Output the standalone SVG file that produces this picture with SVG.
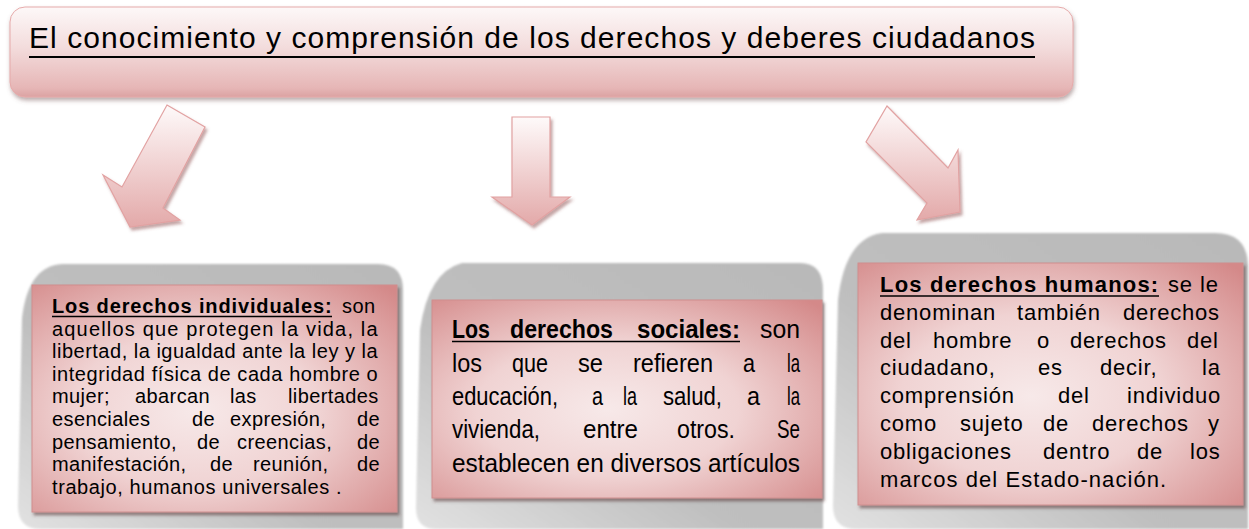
<svg xmlns="http://www.w3.org/2000/svg" width="1249" height="529" viewBox="0 0 1249 529">
<defs>
<style>
.t{font-family:"Liberation Sans",Arial,sans-serif;fill:#000}
.b1{font-size:20px;letter-spacing:0.4px}
.b3{font-size:22px;letter-spacing:0.8px}
.b2{font-family:"Liberation Sans Narrow","Liberation Sans",Arial,sans-serif;font-size:25px;fill:#000}
.hd{font-weight:bold}
.ul{stroke:#000;stroke-width:1.6}
.pink{fill:url(#pk);stroke:#cf8e8e;stroke-width:1;filter:url(#sh)}
.grey{fill:url(#gr);filter:url(#bl)}
.arr{fill:url(#ag);stroke:#e2a2a2;stroke-width:1.2;filter:url(#ash)}
</style>
<linearGradient id="bg" x1="0" y1="0" x2="0" y2="1">
<stop offset="0" stop-color="#fdf8f8"/><stop offset="0.45" stop-color="#f3dcdc"/><stop offset="0.9" stop-color="#e6b6b6"/><stop offset="1" stop-color="#dba2a2"/>
</linearGradient>
<linearGradient id="ag" x1="0" y1="0" x2="0" y2="1">
<stop offset="0" stop-color="#fefafa"/><stop offset="1" stop-color="#e3a9a9"/>
</linearGradient>
<radialGradient id="pk" cx="0.45" cy="0.55" r="0.75">
<stop offset="0" stop-color="#f7e9e9"/><stop offset="0.45" stop-color="#f0d3d3"/><stop offset="1" stop-color="#d48989"/>
</radialGradient>
<linearGradient id="gr" x1="1" y1="0" x2="0" y2="1">
<stop offset="0" stop-color="#b9b9b9"/><stop offset="0.6" stop-color="#bfbfbf"/><stop offset="1" stop-color="#e2e2e2"/>
</linearGradient>
<filter id="sh" x="-5%" y="-5%" width="115%" height="120%">
<feDropShadow dx="2" dy="3" stdDeviation="1.5" flood-color="#5a3a3a" flood-opacity="0.55"/>
</filter>
<filter id="ash" x="-20%" y="-20%" width="150%" height="150%">
<feDropShadow dx="2" dy="3" stdDeviation="1.5" flood-color="#8a4a4a" flood-opacity="0.5"/>
</filter>
<filter id="bsh" x="-5%" y="-10%" width="110%" height="130%">
<feDropShadow dx="1" dy="3" stdDeviation="2" flood-color="#7a5a5a" flood-opacity="0.5"/>
</filter>
<filter id="bl"><feGaussianBlur stdDeviation="1.2"/></filter>
</defs>
<rect width="1249" height="529" fill="#fff"/>

<g id="banner">
<rect x="10" y="7" width="1063" height="90" rx="15" fill="url(#bg)" stroke="#e6aaaa" stroke-width="1" filter="url(#bsh)"/>
<text class="t" x="29" y="48" font-size="30" textLength="1006" lengthAdjust="spacing">El conocimiento y comprensión de los derechos y deberes ciudadanos</text>
<line x1="29" y1="57" x2="1035" y2="57" stroke="#000" stroke-width="2.2"/>
</g>

<g id="connectors">
<polygon class="arr" points="167,105 205,127 163,208 180,220 130,227 103,175 122,187"/>
<polygon class="arr" points="512,117 550,117 550,197 570,197 532,225 492,197 512,197"/>
<polygon class="arr" points="887,106 948,168 958,150 960,212 917,220 927,203 866,142"/>
</g>

<g id="box1">
<path class="grey" d="M62,264 L378,264 Q403,264 403,290 L403,529 L40,529 Q18,529 18,506 L22,318 Q28,266 62,264 Z"/>
<rect class="pink" x="32" y="285" width="365" height="227"/>
<text class="t b1 hd" x="52" y="313" textLength="280" lengthAdjust="spacing">Los derechos individuales:</text>
<line class="ul" x1="52" y1="316.5" x2="332" y2="316.5"/>
<text class="t b1" x="342" y="313">son</text>
<text class="t b1" x="52" y="335.6" textLength="326" lengthAdjust="spacing">aquellos que protegen la vida, la</text>
<text class="t b1" x="52" y="358.2" textLength="326" lengthAdjust="spacing">libertad, la igualdad ante la ley y la</text>
<text class="t b1" x="52" y="380.8" textLength="326" lengthAdjust="spacing">integridad física de cada hombre o</text>
<text class="t b1" y="403.4"><tspan x="52">mujer;</tspan><tspan x="135">abarcan</tspan><tspan x="230">las</tspan><tspan x="288">libertades</tspan></text>
<text class="t b1" y="426"><tspan x="52">esenciales</tspan><tspan x="192">de</tspan><tspan x="230">expresión,</tspan><tspan x="357">de</tspan></text>
<text class="t b1" y="448.6"><tspan x="52">pensamiento,</tspan><tspan x="197">de</tspan><tspan x="237">creencias,</tspan><tspan x="357">de</tspan></text>
<text class="t b1" y="471.2"><tspan x="52">manifestación,</tspan><tspan x="210">de</tspan><tspan x="253">reunión,</tspan><tspan x="357">de</tspan></text>
<text class="t b1" x="52" y="493.8" textLength="290" lengthAdjust="spacing">trabajo, humanos universales .</text>
</g>

<g id="box2">
<path class="grey" d="M462,263 L800,263 Q823,263 823,290 L823,529 L436,529 Q416,529 416,508 L420,330 Q428,272 462,263 Z"/>
<rect class="pink" x="432" y="300" width="390" height="198"/>
<text class="b2 hd" x="452" y="338" textLength="38" lengthAdjust="spacingAndGlyphs">Los</text>
<text class="b2 hd" x="510" y="338" textLength="103" lengthAdjust="spacingAndGlyphs">derechos</text>
<text class="b2 hd" x="637" y="338" textLength="103" lengthAdjust="spacingAndGlyphs">sociales:</text>
<line class="ul" x1="452" y1="341.5" x2="740" y2="341.5"/>
<text class="b2" x="760" y="338" textLength="40" lengthAdjust="spacingAndGlyphs">son</text>
<text class="b2" x="452" y="371.5" textLength="30" lengthAdjust="spacingAndGlyphs">los</text>
<text class="b2" x="512" y="371.5" textLength="36" lengthAdjust="spacingAndGlyphs">que</text>
<text class="b2" x="578" y="371.5" textLength="25" lengthAdjust="spacingAndGlyphs">se</text>
<text class="b2" x="633" y="371.5" textLength="80" lengthAdjust="spacingAndGlyphs">refieren</text>
<text class="b2" x="743" y="371.5" textLength="12" lengthAdjust="spacingAndGlyphs">a</text>
<text class="b2" x="787" y="371.5" textLength="13" lengthAdjust="spacingAndGlyphs">la</text>
<text class="b2" x="452" y="405" textLength="106" lengthAdjust="spacingAndGlyphs">educación,</text>
<text class="b2" x="592" y="405" textLength="11" lengthAdjust="spacingAndGlyphs">a</text>
<text class="b2" x="623" y="405" textLength="14" lengthAdjust="spacingAndGlyphs">la</text>
<text class="b2" x="663" y="405" textLength="59" lengthAdjust="spacingAndGlyphs">salud,</text>
<text class="b2" x="747" y="405" textLength="13" lengthAdjust="spacingAndGlyphs">a</text>
<text class="b2" x="787" y="405" textLength="13" lengthAdjust="spacingAndGlyphs">la</text>
<text class="b2" x="452" y="438" textLength="88" lengthAdjust="spacingAndGlyphs">vivienda,</text>
<text class="b2" x="583" y="438" textLength="55" lengthAdjust="spacingAndGlyphs">entre</text>
<text class="b2" x="677" y="438" textLength="58" lengthAdjust="spacingAndGlyphs">otros.</text>
<text class="b2" x="777" y="438" textLength="23" lengthAdjust="spacingAndGlyphs">Se</text>
<text class="b2" x="452" y="471.5" textLength="348" lengthAdjust="spacingAndGlyphs">establecen en diversos artículos</text>
</g>

<g id="box3">
<path class="grey" d="M882,233 L1215,233 Q1247,233 1248,265 L1248,529 L856,529 Q833,529 833,506 L838,300 Q845,238 882,233 Z"/>
<rect class="pink" x="858" y="263" width="385" height="242"/>
<text class="t b3 hd" x="880" y="292" textLength="279" lengthAdjust="spacing">Los derechos humanos:</text>
<line class="ul" x1="880" y1="296" x2="1159" y2="296"/>
<text class="t b3" y="292"><tspan x="1168">se</tspan><tspan x="1200">le</tspan></text>
<text class="t b3" y="320"><tspan x="880">denominan</tspan><tspan x="1017">también</tspan><tspan x="1123">derechos</tspan></text>
<text class="t b3" y="348"><tspan x="880">del</tspan><tspan x="933">hombre</tspan><tspan x="1037">o</tspan><tspan x="1070">derechos</tspan><tspan x="1187">del</tspan></text>
<text class="t b3" y="375"><tspan x="880">ciudadano,</tspan><tspan x="1038">es</tspan><tspan x="1100">decir,</tspan><tspan x="1202">la</tspan></text>
<text class="t b3" y="403"><tspan x="880">comprensión</tspan><tspan x="1058">del</tspan><tspan x="1127">individuo</tspan></text>
<text class="t b3" y="431"><tspan x="880">como</tspan><tspan x="960">sujeto</tspan><tspan x="1043">de</tspan><tspan x="1092">derechos</tspan><tspan x="1208">y</tspan></text>
<text class="t b3" y="459"><tspan x="880">obligaciones</tspan><tspan x="1043">dentro</tspan><tspan x="1137">de</tspan><tspan x="1190">los</tspan></text>
<text class="t b3" x="880" y="487" textLength="287" lengthAdjust="spacing">marcos del Estado-nación.</text>
</g>
</svg>
